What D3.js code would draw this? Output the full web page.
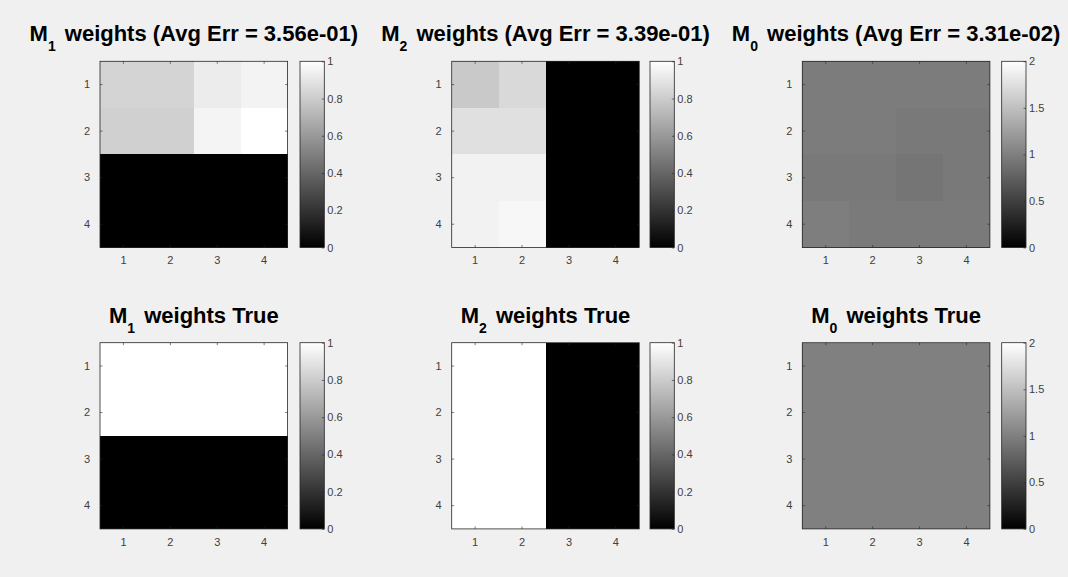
<!DOCTYPE html>
<html>
<head>
<meta charset="utf-8">
<script src="https://cdn.jsdelivr.net/npm/d3@7"></script>
<style>
  body { margin: 0; background: #f0f0f0; }
  svg { display: block; }
  .tick text { font-family: "Liberation Sans", Arial, sans-serif; font-size: 11px; fill: #404040; }
  .title { font-family: "Liberation Sans", Arial, sans-serif; font-weight: bold; font-size: 22px; fill: #000; }
</style>
</head>
<body>
<script>
// ---- data ----
var rowLabels = [1, 2, 3, 4];
var colLabels = [1, 2, 3, 4];

var m1Est = [
  [0.83, 0.83, 0.925, 0.953],
  [0.816, 0.816, 0.957, 1.0],
  [0, 0, 0, 0],
  [0, 0, 0, 0]
];
var m2Est = [
  [0.79, 0.85, 0, 0],
  [0.878, 0.878, 0, 0],
  [0.95, 0.95, 0, 0],
  [0.95, 0.97, 0, 0]
];
var m0Est = [
  [0.97, 0.97, 0.97, 0.97],
  [0.97, 0.97, 0.95, 0.95],
  [0.95, 0.95, 0.92, 0.95],
  [0.99, 0.96, 0.96, 0.96]
];
var m1True = [
  [1, 1, 1, 1],
  [1, 1, 1, 1],
  [0, 0, 0, 0],
  [0, 0, 0, 0]
];
var m2True = [
  [1, 1, 0, 0],
  [1, 1, 0, 0],
  [1, 1, 0, 0],
  [1, 1, 0, 0]
];
var m0True = [
  [1, 1, 1, 1],
  [1, 1, 1, 1],
  [1, 1, 1, 1],
  [1, 1, 1, 1]
];

var titleSubs = ["1", "2", "0", "1", "2", "0"];
var titleRests = [" weights (Avg Err = 3.56e-01)", " weights (Avg Err = 3.39e-01)", " weights (Avg Err = 3.31e-02)",
                  " weights True", " weights True", " weights True"];
var colorMax = [1, 1, 2, 1, 1, 2];
var cbTicks1 = [0, 0.2, 0.4, 0.6, 0.8, 1];
var cbTicks2 = [0, 0.5, 1, 1.5, 2];

var matrices = [m1Est, m2Est, m0Est, m1True, m2True, m0True];

// ---- layout ----
var W = 1068, H = 577;
var plotX = [100, 451.7, 802.3];
var cbX = [300, 650, 1001.7];
var plotY = [61.3, 342.7];
var plotW = 187.6, plotH = 186.2, cbW = 24.3;

var svg = d3.select(document.body).append('svg')
  .attr('width', W).attr('height', H);

svg.append('rect').attr('width', W).attr('height', H).attr('fill', '#f0f0f0');

var defs = svg.append('defs');
var grad = defs.append('linearGradient').attr('id', 'gray')
  .attr('x1', 0).attr('y1', 1).attr('x2', 0).attr('y2', 0);
grad.append('stop').attr('offset', '0%').attr('stop-color', '#000');
grad.append('stop').attr('offset', '100%').attr('stop-color', '#fff');

function styleAxis(g){
  g.select('.domain').remove();
  g.selectAll('.tick line').attr('stroke', '#262626').attr('stroke-width', 0.6);
}

matrices.forEach(function(mat, i){
  var c = i % 3, r = Math.floor(i / 3);
  var x0 = plotX[c], y0 = plotY[r];
  var g = svg.append('g').attr('transform', 'translate(' + x0 + ',' + y0 + ')');

  var x = d3.scaleBand().domain(colLabels).range([0, plotW]);
  var y = d3.scaleBand().domain(rowLabels).range([0, plotH]);
  var color = d3.scaleLinear().domain([0, colorMax[i]]).range(['#000', '#fff']).clamp(true);

  var cells = [];
  mat.forEach(function(row, ri){
    row.forEach(function(v, ci){
      cells.push({r: rowLabels[ri], c: colLabels[ci], v: v});
    });
  });

  g.selectAll('rect.cell').data(cells).enter().append('rect')
    .attr('class', 'cell')
    .attr('x', function(d){ return x(d.c); })
    .attr('y', function(d){ return y(d.r); })
    .attr('width', x.bandwidth())
    .attr('height', y.bandwidth())
    .attr('shape-rendering', 'crispEdges')
    .attr('fill', function(d){ return color(d.v); });

  // axes with inward ticks (box on)
  g.append('g').call(d3.axisLeft(y).tickSize(-2.5).tickPadding(10)).call(styleAxis);
  g.append('g').attr('transform', 'translate(0,' + plotH + ')')
    .call(d3.axisBottom(x).tickSize(-2.5).tickPadding(9)).call(styleAxis);
  g.append('g').attr('transform', 'translate(' + plotW + ',0)')
    .call(d3.axisRight(y).tickSize(-2.5).tickFormat('')).call(styleAxis);
  g.append('g').call(d3.axisTop(x).tickSize(-2.5).tickFormat('')).call(styleAxis);

  g.append('rect').attr('width', plotW).attr('height', plotH)
    .attr('fill', 'none').attr('stroke', '#262626').attr('stroke-width', 0.8);

  // title
  var t = svg.append('text').attr('class', 'title')
    .attr('x', x0 + plotW / 2).attr('y', y0 - 20).attr('text-anchor', 'middle');
  t.append('tspan').text('M');
  t.append('tspan').attr('font-size', '14px').attr('dy', 10).text(titleSubs[i]);
  t.append('tspan').attr('dy', -10).attr('dx', 3).text(titleRests[i]);

  // colorbar
  var cb = svg.append('g').attr('transform', 'translate(' + cbX[c] + ',' + y0 + ')');
  cb.append('rect').attr('width', cbW).attr('height', plotH).attr('fill', 'url(#gray)');
  var cs = d3.scaleLinear().domain([0, colorMax[i]]).range([plotH, 0]);
  var ticks = colorMax[i] === 2 ? cbTicks2 : cbTicks1;
  cb.append('g').attr('transform', 'translate(' + cbW + ',0)')
    .call(d3.axisRight(cs).tickValues(ticks).tickSize(-2.5).tickPadding(3)
      .tickFormat(function(d){ return String(d); }))
    .call(styleAxis);
  cb.append('rect').attr('width', cbW).attr('height', plotH)
    .attr('fill', 'none').attr('stroke', '#262626').attr('stroke-width', 0.8);
});
</script>
</body>
</html>
